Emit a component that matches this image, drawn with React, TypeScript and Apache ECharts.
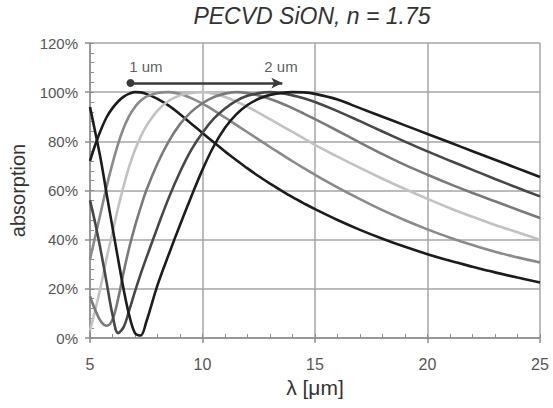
import React, { useEffect, useRef } from "react";
import * as echarts from "echarts";

const lambda = [5, 5.25, 5.5, 5.75, 6, 6.25, 6.5, 6.75, 7, 7.25, 7.5, 8, 8.5, 9, 9.5, 10, 10.5, 11, 11.5, 12, 12.5, 13, 13.5, 14, 14.5, 15, 16, 17, 18, 19, 20, 21, 22, 23, 24, 25];

const t10 = [72, 79, 85, 90, 93.5, 96.2, 98.2, 99.4, 100, 99.9, 99.3, 97.3, 94.5, 91, 87.2, 83.4, 79.6, 75.9, 72.4, 69, 65.8, 62.8, 60, 57.3, 54.8, 52.4, 48, 44, 40.4, 37.1, 34.1, 31.4, 29, 26.7, 24.6, 22.6];
const t12 = [32, 42, 52, 62, 71, 79, 85.5, 90.5, 94, 96.5, 98.2, 99.7, 100, 99.3, 97.6, 95.3, 92.6, 89.7, 86.7, 83.7, 80.7, 77.7, 74.8, 71.9, 69.1, 66.4, 61.3, 56.5, 52, 47.9, 44.2, 40.8, 37.8, 35.1, 32.8, 30.7];
const t14 = [3, 12, 22, 33, 43, 53, 62, 70, 76.5, 81.8, 86.2, 92.5, 96.5, 98.7, 99.7, 100, 99.4, 98, 96.2, 94, 91.6, 89, 86.4, 83.8, 81.2, 78.6, 73.8, 69.2, 64.8, 60.6, 56.6, 52.8, 49.3, 46, 43, 40];
const t16 = [17, 11, 6.5, 5, 7.5, 16, 27, 37, 45.5, 53, 60, 71, 80, 87, 92, 95.5, 98, 99.4, 100, 99.6, 98.6, 97.2, 95.5, 93.5, 91.3, 89, 84.3, 79.5, 74.8, 70.4, 66.4, 62.6, 59, 55.6, 52.2, 48.8];
const t18 = [56, 46, 34.5, 22, 9.5, 2, 4.5, 11.5, 19, 26, 32.5, 45, 57, 67.5, 76.5, 83.5, 89.2, 93.4, 96.5, 98.5, 99.6, 100, 99.6, 98.7, 97.5, 96, 92.3, 88.2, 84, 79.9, 75.9, 72.1, 68.4, 64.7, 61.1, 57.6];
const t20 = [94, 83, 71.5, 58, 45, 32, 19.5, 9, 2, 1, 6.5, 21.5, 34, 46, 57.5, 68.5, 78, 85.5, 91, 94.8, 97.3, 98.9, 99.7, 100, 99.9, 99.3, 97, 93.5, 90, 86.5, 83, 79.5, 76, 72.5, 69, 65.5];

const seriesNames = ["1.0 um", "1.2 um", "1.4 um", "1.6 um", "1.8 um", "2.0 um"];
const seriesValues = [t10, t12, t14, t16, t18, t20];
const seriesColors = ["#1c1c1c", "#8a8a8a", "#c2c2c2", "#7a7a7a", "#474747", "#1c1c1c"];

const annotationLabels = ["1 um", "2 um"];
const annotationX = [7.48, 13.49];
const annotationY = 110.6;
const arrowStart = [6.8, 103.7];
const arrowEnd = [13.55, 103.7];

const xTicks = { min: 5, max: 25, interval: 5 };
const yTicks = { min: 0, max: 120, interval: 20 };

const FONT = "Liberation Sans, Arial, sans-serif";

export default function App() {
  const ref = useRef<HTMLDivElement>(null);

  useEffect(() => {
    if (!ref.current) return;
    const chart = echarts.init(ref.current, null, { renderer: "svg" });

    const lineSeries: any[] = seriesValues.map((vals, i) => ({
      name: seriesNames[i],
      type: "line",
      xAxisIndex: 0,
      yAxisIndex: 0,
      data: lambda.map((l, j) => [l, vals[j]]),
      showSymbol: false,
      smooth: 0.35,
      lineStyle: { color: seriesColors[i], width: 2.6 },
      itemStyle: { color: seriesColors[i] },
      z: 3 + i,
      silent: true,
    }));

    lineSeries[0].markLine = {
      silent: true,
      symbol: ["circle", "arrow"],
      symbolSize: [8, 11],
      label: { show: false },
      lineStyle: { color: "#3a3a3a", width: 2.5, type: "solid" },
      data: [[{ coord: arrowStart }, { coord: arrowEnd }]],
    };

    const annotationSeries = {
      type: "scatter",
      xAxisIndex: 0,
      yAxisIndex: 0,
      symbolSize: 1,
      itemStyle: { color: "rgba(0,0,0,0)" },
      silent: true,
      data: annotationLabels.map((n, i) => ({ name: n, value: [annotationX[i], annotationY] })),
      label: {
        show: true,
        position: "inside",
        formatter: "{b}",
        color: "#333",
        fontSize: 15,
        fontFamily: FONT,
      },
      z: 20,
    };

    chart.setOption({
      animation: false,
      backgroundColor: "#fff",
      grid: { left: 90, right: 13, top: 43, bottom: 70, containLabel: false },
      graphic: [
        {
          type: "text",
          x: 312,
          y: 16,
          style: {
            text: "PECVD SiON, n = 1.75",
            font: "italic 23px " + FONT,
            fill: "#333",
            textAlign: "center",
            textVerticalAlign: "middle",
          },
        },
      ],
      xAxis: [
        {
          type: "value",
          position: "bottom",
          min: xTicks.min,
          max: xTicks.max,
          interval: xTicks.interval,
          name: "λ [μm]",
          nameLocation: "middle",
          nameGap: 34,
          nameTextStyle: { fontSize: 21, color: "#333", fontFamily: FONT },
          axisLine: { show: true, lineStyle: { color: "#8c8c8c", width: 1.5 } },
          axisTick: { show: true, inside: true, length: 4, lineStyle: { color: "#8c8c8c" } },
          minorTick: { show: true, splitNumber: 5, length: 4, lineStyle: { color: "#8c8c8c", width: 1 } },
          axisLabel: { fontSize: 16, color: "#555", fontFamily: FONT, margin: 18 },
          splitLine: { show: true, lineStyle: { color: "#a6a6a6", width: 1.5 } },
        },
        {
          type: "value",
          position: "bottom",
          min: xTicks.min,
          max: xTicks.max,
          interval: xTicks.interval,
          axisLine: { show: false },
          axisTick: { show: true, inside: false, length: 5, lineStyle: { color: "#8c8c8c", width: 1.5 } },
          axisLabel: { show: false },
          splitLine: { show: false },
        },
      ],
      yAxis: [
        {
          type: "value",
          position: "left",
          min: yTicks.min,
          max: yTicks.max,
          interval: yTicks.interval,
          name: "absorption",
          nameLocation: "middle",
          nameGap: 62,
          nameRotate: 90,
          nameTextStyle: { fontSize: 20, color: "#333", fontFamily: FONT },
          axisLine: { show: true, lineStyle: { color: "#8c8c8c", width: 1.5 } },
          axisTick: { show: true, inside: true, length: 4, lineStyle: { color: "#8c8c8c" } },
          minorTick: { show: true, splitNumber: 5, length: 4, lineStyle: { color: "#8c8c8c", width: 1 } },
          axisLabel: { fontSize: 15, color: "#555", fontFamily: FONT, margin: 12, formatter: "{value}%" },
          splitLine: { show: true, lineStyle: { color: "#a6a6a6", width: 1.5 } },
        },
        {
          type: "value",
          position: "left",
          min: yTicks.min,
          max: yTicks.max,
          interval: yTicks.interval,
          axisLine: { show: false },
          axisTick: { show: true, inside: false, length: 5, lineStyle: { color: "#8c8c8c", width: 1.5 } },
          axisLabel: { show: false },
          splitLine: { show: false },
        },
      ],
      series: [...lineSeries, annotationSeries],
    });

    return () => chart.dispose();
  }, []);

  return (
    <div
      ref={ref}
      style={{ position: "fixed", left: 0, top: 0, width: 553, height: 408, background: "#fff" }}
    />
  );
}
